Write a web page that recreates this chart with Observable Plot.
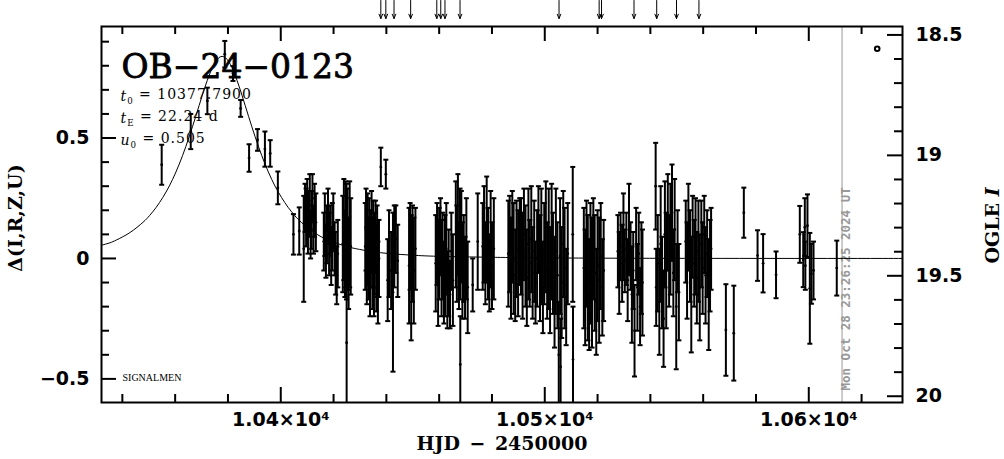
<!DOCTYPE html>
<html><head><meta charset="utf-8">
<script src="https://cdn.jsdelivr.net/npm/d3@7"></script>
<script src="https://cdn.jsdelivr.net/npm/@observablehq/plot@0.6"></script>
<style>html,body{margin:0;padding:0;background:#fff}svg{display:block}</style>
</head><body><div id="chart"></div>
<script>
// ---------- data ----------
const eventName = "OB\u221224\u22120123";
const paramSymbols = ["t", "t", "u"];
const paramSubs = ["0", "E", "0"];
const paramValues = ["10377.7900", "22.24 d", "0.505"];
const nowHJD = 10612.6;
const nowLabel = "Mon Oct 28 23:26:25 2024 UT";
const baseMag = 19.428;

const hjd = [
  10354.9, 10365.9, 10372.2, 10378.8, 10381.9, 10384.8, 10388.0, 10391.2, 10394.0, 10396.0, 10398.9, 10404.8, 10407.0,
  10408.7, 10409.2, 10409.6, 10410.0, 10410.3, 10410.7, 10411.0, 10411.3, 10411.7, 10412.0, 10412.4, 10412.8, 10413.3,
  10416.3, 10416.7, 10417.1, 10417.5, 10417.9, 10418.3, 10418.7, 10419.1, 10419.5, 10419.9, 10420.4, 10420.8, 10421.2, 10421.6,
  10423.5, 10423.9, 10424.3, 10424.6, 10424.9, 10424.95, 10425.3, 10425.7, 10426.1, 10426.5,
  10432.0, 10432.3, 10432.6, 10432.9, 10433.2, 10433.5, 10433.8, 10434.1, 10434.4, 10434.7, 10435.0, 10435.3, 10435.6, 10435.9, 10436.2, 10436.5, 10436.8, 10437.2, 10437.9, 10439.8,
  10440.5, 10441.0, 10441.8, 10442.5, 10443.0, 10443.6, 10444.3,
  10448.6, 10449.0, 10449.4, 10449.9, 10450.4, 10451.0,
  10458.7, 10459.2, 10459.6, 10460.0, 10460.5, 10460.9, 10461.3, 10461.8, 10462.2, 10462.7, 10463.1, 10463.6, 10464.1, 10464.6, 10465.2,
  10466.3, 10466.7, 10467.1, 10467.5, 10467.9, 10468.0, 10468.4, 10468.8, 10469.3, 10469.8, 10470.3, 10470.8,
  10472.7, 10474.6,
  10476.5, 10477.0, 10477.5, 10478.0, 10478.5, 10479.0, 10479.5, 10480.0, 10480.7,
  10486.2, 10486.7, 10487.2, 10487.7, 10488.2, 10488.8, 10489.3, 10489.9, 10490.5,
  10491.0, 10491.6, 10492.1, 10492.7, 10493.2, 10493.8, 10494.3, 10494.9, 10495.4, 10496.0,
  10496.5, 10497.1, 10497.6, 10498.2, 10498.7, 10499.3, 10499.8, 10500.4, 10500.9, 10501.5,
  10502.0, 10502.6, 10503.1, 10503.7, 10504.2, 10504.8, 10505.3, 10505.8, 10506.0, 10506.4,
  10507.0, 10507.5, 10508.1, 10508.7,
  10510.6, 10510.7,
  10514.8, 10515.3, 10515.8, 10516.3, 10516.8, 10517.3, 10517.9, 10518.4, 10518.9, 10519.5, 10520.0, 10520.6, 10521.2, 10521.8, 10522.3,
  10527.7, 10528.2, 10528.7, 10529.3, 10529.8, 10530.3, 10530.9, 10531.4, 10531.9, 10532.5, 10533.0, 10533.5, 10534.0, 10534.6, 10535.1, 10535.6, 10536.1, 10536.6, 10537.0,
  10542.0, 10542.2, 10542.8, 10543.4, 10543.9, 10544.4, 10545.0, 10545.5, 10546.0, 10546.6, 10547.1, 10547.6, 10548.2, 10548.7, 10549.2, 10549.8, 10550.3, 10550.8,
  10553.4, 10553.9, 10554.4, 10555.0, 10555.5, 10556.0, 10556.6, 10557.1, 10557.6, 10558.2, 10558.7, 10559.3, 10559.8, 10560.4, 10560.9, 10561.5, 10562.1, 10562.6, 10563.0,
  10568.6, 10571.6, 10575.4, 10580.6, 10582.7, 10587.6,
  10596.6, 10597.9, 10598.5, 10598.7, 10599.5, 10600.4, 10601.0, 10601.8,
  10610.6
];
const dmag = [
  0.389, 0.527, 0.654, 0.848, 0.768, 0.623, 0.417, 0.492, 0.454, 0.436, 0.293, 0.100, 0.114,
  0.04, 0.21, 0.17, 0.23, 0.13, 0.19, 0.22, 0.10, 0.16, 0.25, 0.12, 0.20, 0.15,
  0.07, 0.14, 0.03, 0.10, 0.18, 0.06, 0.12, 0.01, 0.09, 0.15, 0.04, -0.02, -0.07, 0.02,
  0.06, 0.12, 0.02, 0.10, 0.07, -0.35, 0.08, -0.02, 0.10, 0.05,
  0.05, 0.12, -0.03, 0.08, 0.00, 0.10, -0.06, 0.04, 0.11, -0.02, 0.06, -0.08, 0.02, 0.09, -0.04, 0.03, -0.10, 0.00, 0.38, 0.35,
  -0.09, 0.02, -0.05, -0.14, 0.05, 0.08, -0.01,
  -0.03, 0.05, -0.08, 0.02, -0.05, 0.04,
  -0.02, 0.06, -0.06, 0.02, 0.09, -0.04, 0.01, -0.10, -0.03, 0.04, -0.13, -0.06, -0.15, 0.03, -0.09,
  0.10, 0.02, 0.14, -0.03, 0.06, -0.44, 0.09, -0.05, 0.00, -0.08, 0.04, -0.12,
  -0.11, 0.07,
  0.05, 0.10, -0.02, 0.12, 0.02, -0.06, 0.08, -0.03, 0.04,
  0.02, 0.06, -0.04, 0.09, 0.00, -0.07, 0.04, -0.02, 0.07,
  0.05, -0.03, 0.10, 0.01, -0.08, 0.06, -0.02, 0.08, -0.06, 0.03,
  -0.10, 0.00, 0.12, -0.04, 0.05, -0.12, 0.02, 0.09, -0.05, 0.04,
  -0.09, 0.07, -0.02, -0.14, 0.03, -0.07, -0.40, 0.01, -0.45, -0.10,
  0.06, -0.04, -0.16, 0.02,
  0.10, -0.42,
  -0.04, -0.12, 0.02, -0.08, -0.15, -0.02, -0.10, 0.04, -0.06, -0.18, -0.03, -0.09, 0.01, -0.12, -0.05,
  0.03, -0.06, 0.05, -0.02, 0.09, -0.01, 0.04, -0.09, 0.12, 0.01, -0.15, -0.05, -0.30, 0.06, -0.12, 0.02, -0.20, -0.04, -0.10,
  0.30, -0.12, -0.02, -0.18, 0.06, -0.10, -0.25, 0.10, -0.05, 0.15, -0.01, 0.08, 0.19, -0.06, 0.12, -0.20, 0.03, -0.14,
  0.07, -0.05, 0.13, 0.01, -0.15, 0.09, -0.02, 0.05, -0.08, 0.03, -0.12, 0.06, -0.04, 0.10, -0.07, 0.02, -0.15, -0.03, 0.04,
  -0.297, -0.31, 0.19, 0.012, -0.02, -0.068,
  0.10, -0.005, 0.13, -0.03, 0.136, -0.124, -0.064, -0.05,
  -0.04
];
const dmagErr = [
  0.083, 0.073, 0.055, 0.055, 0.031, 0.035, 0.057, 0.045, 0.073, 0.055, 0.068, 0.084, 0.098,
  0.22, 0.10, 0.12, 0.10, 0.11, 0.09, 0.13, 0.10, 0.12, 0.10, 0.10, 0.11, 0.12,
  0.12, 0.13, 0.11, 0.12, 0.11, 0.13, 0.10, 0.12, 0.14, 0.12, 0.11, 0.13, 0.12, 0.14,
  0.20, 0.21, 0.18, 0.22, 0.24, 0.25, 0.21, 0.19, 0.22, 0.20,
  0.18, 0.17, 0.16, 0.19, 0.17, 0.15, 0.18, 0.16, 0.17, 0.19, 0.18, 0.16, 0.17, 0.15, 0.18, 0.19, 0.17, 0.16, 0.08, 0.06,
  0.17, 0.18, 0.16, 0.33, 0.17, 0.14, 0.15,
  0.24, 0.18, 0.26, 0.20, 0.22, 0.17,
  0.20, 0.17, 0.22, 0.19, 0.16, 0.20, 0.18, 0.17, 0.21, 0.19, 0.16, 0.18, 0.14, 0.16, 0.19,
  0.22, 0.20, 0.21, 0.18, 0.23, 0.20, 0.19, 0.20, 0.18, 0.17, 0.21, 0.19,
  0.11, 0.20,
  0.18, 0.20, 0.17, 0.22, 0.19, 0.16, 0.20, 0.18, 0.21,
  0.22, 0.20, 0.21, 0.19, 0.23, 0.19, 0.20, 0.22, 0.18,
  0.20, 0.22, 0.19, 0.21, 0.20, 0.23, 0.18, 0.22, 0.19, 0.21,
  0.17, 0.20, 0.18, 0.22, 0.24, 0.19, 0.21, 0.23, 0.20, 0.25,
  0.22, 0.24, 0.21, 0.23, 0.26, 0.22, 0.22, 0.24, 0.20, 0.23,
  0.22, 0.25, 0.20, 0.21,
  0.28, 0.22,
  0.25, 0.24, 0.22, 0.26, 0.23, 0.25, 0.27, 0.21, 0.24, 0.22, 0.23, 0.26, 0.22, 0.20, 0.21,
  0.15, 0.17, 0.14, 0.16, 0.18, 0.13, 0.15, 0.17, 0.19, 0.14, 0.20, 0.16, 0.19, 0.15, 0.18, 0.17, 0.16, 0.19, 0.22,
  0.18, 0.16, 0.20, 0.22, 0.24, 0.19, 0.20, 0.22, 0.24, 0.20, 0.19, 0.23, 0.20, 0.18, 0.21, 0.26, 0.17, 0.20,
  0.17, 0.20, 0.18, 0.19, 0.24, 0.17, 0.18, 0.20, 0.19, 0.21, 0.22, 0.18, 0.19, 0.16, 0.20, 0.18, 0.23, 0.19, 0.17,
  0.19, 0.197, 0.104, 0.105, 0.121, 0.097,
  0.118, 0.114, 0.12, 0.10, 0.13, 0.23, 0.124, 0.12,
  0.114
];

// model curve
const modelHjd = [10331.8, 10335.3, 10337.8, 10342.8, 10347.8, 10350.3, 10352.8, 10355.3, 10357.8, 10360.3, 10362.8, 10365.3, 10367.8, 10370.3, 10372.8, 10375.3, 10377.8,
  10380.3, 10382.8, 10385.3, 10387.8, 10390.3, 10392.8, 10395.3, 10397.8, 10400.3, 10402.8, 10405.3, 10407.8, 10412.8, 10417.8, 10422.8, 10427.8, 10437.8, 10447.8, 10457.8, 10477.8, 10527.8, 10627.8, 10640];
const modelDmag = [0.054, 0.065, 0.077, 0.107, 0.150, 0.178, 0.212, 0.253, 0.301, 0.359, 0.427, 0.505, 0.590, 0.678, 0.758, 0.817, 0.839,
  0.817, 0.758, 0.678, 0.590, 0.505, 0.427, 0.359, 0.301, 0.253, 0.212, 0.178, 0.150, 0.107, 0.077, 0.057, 0.042, 0.024, 0.015, 0.0095, 0.0052, 0.001, 0.0001, 0.0001];

// alert arrows at top
const arrowHjd = [10437.9, 10439.8, 10442.9, 10449.2, 10459.1, 10460.6, 10462.2, 10467.9, 10505.4, 10520.6, 10521.5, 10533.8, 10542.4, 10549.9, 10558.4];

// ticks
const xMajor = [10400, 10500, 10600];
const xMajorLabels = ["1.04\u00d710\u2074", "1.05\u00d710\u2074", "1.06\u00d710\u2074"];
const xMinor = [10340, 10360, 10380, 10420, 10440, 10460, 10480, 10520, 10540, 10560, 10580, 10620];
const yMajor = [-0.5, 0, 0.5];
const yMajorLabels = ["\u22120.5", "0", "0.5"];
const yMinor = [-0.4, -0.3, -0.2, -0.1, 0.1, 0.2, 0.3, 0.4, 0.6, 0.7, 0.8, 0.9];
const magMajor = [18.5, 19, 19.5, 20];
const magMajorLabels = ["18.5", "19", "19.5", "20"];
const magMinor = [18.6, 18.7, 18.8, 18.9, 19.1, 19.2, 19.3, 19.4, 19.6, 19.7, 19.8, 19.9];

// ---------- layout ----------
const W = 1004, H = 459;
const M = {top: 26, right: 102, bottom: 57, left: 101};
const innerW = W - M.left - M.right, innerH = H - M.top - M.bottom;
const MAJ = 15, MIN = 8;

const bars = hjd.map((t, i) => ({t, y: dmag[i], e: dmagErr[i]}));
const model = modelHjd.map((t, i) => ({t, y: modelDmag[i]}));
const magToDelta = m => baseMag - m;
const paramStrings = paramSymbols.map((s, i) => s + paramSubs[i] + " = " + paramValues[i]);

const capSymbol = {draw(ctx, size) { const r = Math.sqrt(size / Math.PI); ctx.moveTo(-r, 0); ctx.lineTo(r, 0); }};
const sans = "DejaVu Sans", serif = "DejaVu Serif";

const svg = Plot.plot({
  width: W, height: H,
  marginTop: M.top, marginRight: M.right, marginBottom: M.bottom, marginLeft: M.left,
  x: {domain: [10332.1, 10635.5], axis: null},
  y: {domain: [-0.598, 0.963], axis: null},
  style: {background: "white", color: "black"},
  marks: [
    Plot.ruleX([nowHJD], {x: d => d, stroke: "#999", strokeWidth: 1}),
    Plot.text([nowLabel], {x: () => nowHJD, frameAnchor: "bottom", rotate: -90, textAnchor: "start", dx: 8, dy: -12,
      fontFamily: "DejaVu Sans Mono", fontWeight: "bold", fontSize: 12.5, fill: "#999"}),
    Plot.line(model, {x: "t", y: "y", curve: "natural", stroke: "black", strokeWidth: 1, clip: true}),
    Plot.ruleX(bars, {x: "t", y1: d => d.y - d.e, y2: d => d.y + d.e, stroke: "black", strokeWidth: 2, clip: true}),
    Plot.dot(bars, {x: "t", y: d => d.y + d.e, r: 2.5, symbol: capSymbol, fill: "none", stroke: "black", strokeWidth: 2, clip: true}),
    Plot.dot(bars, {x: "t", y: d => d.y - d.e, r: 2.5, symbol: capSymbol, fill: "none", stroke: "black", strokeWidth: 2, clip: true}),
    Plot.dot(bars, {x: "t", y: "y", r: 1.4, fill: "black", stroke: "none", clip: true}),
    // ticks
    Plot.tickY(yMajor, {y: d => d, insetRight: innerW - MAJ, strokeWidth: 2}),
    Plot.tickY(yMinor, {y: d => d, insetRight: innerW - MIN, strokeWidth: 2}),
    Plot.tickY(magMajor, {y: magToDelta, insetLeft: innerW - MAJ, strokeWidth: 2}),
    Plot.tickY(magMinor, {y: magToDelta, insetLeft: innerW - MIN, strokeWidth: 2}),
    Plot.tickX(xMajor, {x: d => d, insetTop: innerH - MAJ, strokeWidth: 2}),
    Plot.tickX(xMinor, {x: d => d, insetTop: innerH - MIN, strokeWidth: 2}),
    Plot.tickX(xMajor, {x: d => d, insetBottom: innerH - MAJ, strokeWidth: 2}),
    Plot.tickX(xMinor, {x: d => d, insetBottom: innerH - MIN, strokeWidth: 2}),
    Plot.frame({stroke: "black", strokeWidth: 2}),
    // tick labels
    Plot.text(yMajor, {y: d => d, frameAnchor: "left", dx: -12, textAnchor: "end", text: (d, i) => yMajorLabels[i],
      fontFamily: sans, fontWeight: "bold", fontSize: 19}),
    Plot.text(magMajor, {y: magToDelta, frameAnchor: "right", dx: 13, textAnchor: "start", text: (d, i) => magMajorLabels[i],
      fontFamily: sans, fontWeight: "bold", fontSize: 19}),
    Plot.text(xMajor, {x: d => d, frameAnchor: "bottom", dy: 23, text: (d, i) => xMajorLabels[i],
      fontFamily: sans, fontWeight: "bold", fontSize: 19}),
    // axis titles
    Plot.text(["HJD\u2002\u2212\u20022450000"], {frameAnchor: "bottom", dy: 47.5, fontFamily: serif, fontWeight: "bold", fontSize: 19}),
    Plot.text(["\u0394(I,R,Z,U)"], {frameAnchor: "left", dx: -86, dy: 3.5, rotate: -90, textAnchor: "middle", fontFamily: serif, fontWeight: "bold", fontSize: 19}),
    Plot.text(["OGLE I"], {frameAnchor: "right", dx: 90, dy: 11, rotate: -90, textAnchor: "middle", fontFamily: serif, fontWeight: "bold", fontSize: 19}),
    // annotations
    Plot.text([eventName], {frameAnchor: "top-left", dx: 20, dy: 28.5, textAnchor: "start", fontFamily: serif, fontSize: 33,
      fill: "black", stroke: "black", strokeWidth: 0.8}),
    ...paramStrings.map((s, i) => Plot.text([s], {
      frameAnchor: "top-left", dx: 19, dy: 64.5 + 22 * i, textAnchor: "start", fontFamily: serif, fontSize: 14})),
    Plot.text(["SIGNALMEN"], {frameAnchor: "bottom-left", dx: 21, dy: -21.7, textAnchor: "start", fontFamily: "Liberation Serif", fontSize: 10}),
    Plot.dot([0], {frameAnchor: "top-right", dx: -25.3, dy: 22.3, r: 2.3, fill: "white", stroke: "black", strokeWidth: 2}),
    Plot.arrow(arrowHjd, {x: d => d, y1: 1.071, y2: 0.996, headLength: 7, headAngle: 45, stroke: "black", strokeWidth: 1})
  ]
});

// subscripts / italics as real text
d3.select(svg).selectAll("text").each(function() {
  const t = d3.select(this);
  const content = this.textContent;
  const i = paramStrings.indexOf(content);
  if (i >= 0) {
    t.text(null).attr("letter-spacing", "1px");
    t.append("tspan").attr("font-style", "italic").text(paramSymbols[i]);
    t.append("tspan").attr("font-size", "0.62em").attr("dy", "0.3em").text(paramSubs[i]);
    t.append("tspan").attr("dy", "-0.3em").text(" = " + paramValues[i]);
  } else if (content === "OGLE I") {
    t.text(null);
    t.append("tspan").text("OGLE ");
    t.append("tspan").attr("font-style", "italic").text("I");
  }
});

document.getElementById("chart").appendChild(svg);
</script>
</body></html>
